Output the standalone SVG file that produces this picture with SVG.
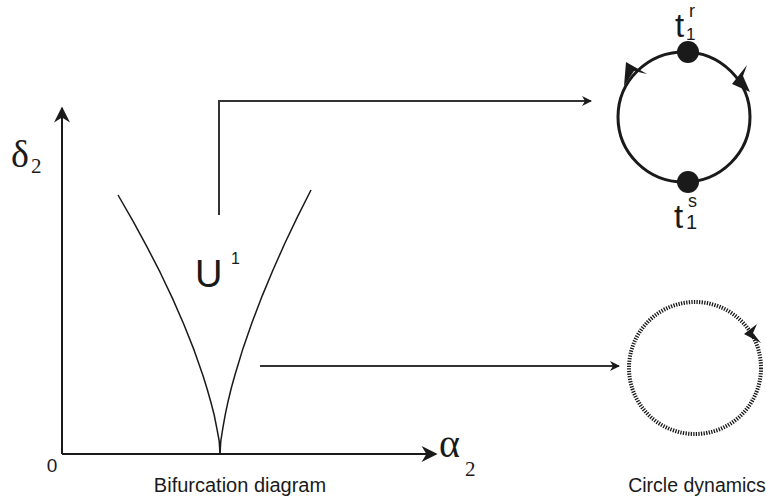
<svg xmlns="http://www.w3.org/2000/svg" width="766" height="497" viewBox="0 0 766 497">
<style>
.ax{stroke:#1a1a1a;stroke-width:2;fill:none}
.cv{stroke:#1a1a1a;stroke-width:1.5;fill:none;stroke-linejoin:round}
.cn{stroke:#333;stroke-width:2;fill:none}
.sans{font-family:"Liberation Sans",Arial,sans-serif;fill:#1a1a1a}
.serif{font-family:"Liberation Serif","Times New Roman",serif;fill:#1a1a1a}
.head{fill:#1a1a1a}
</style>
<defs>
<marker id="ah" viewBox="0 0 10 10" refX="9" refY="5" markerWidth="5" markerHeight="5" orient="auto" markerUnits="strokeWidth">
<path d="M0,0 L10,5 L0,10 L3,5 Z" fill="#1a1a1a"/>
</marker>
<marker id="ahL" viewBox="0 0 10 10" refX="9" refY="5" markerWidth="9" markerHeight="8" orient="auto" markerUnits="strokeWidth">
<path d="M0,0 L10,5 L0,10 L3,5 Z" fill="#1a1a1a"/>
</marker>
</defs>
<rect width="766" height="497" fill="#fff"/>
<g id="axes">
<line class="ax" x1="62" y1="454" x2="62" y2="108" marker-end="url(#ahL)"/>
<line class="ax" x1="62" y1="454" x2="436" y2="454" marker-end="url(#ahL)"/>
<text class="sans" x="52" y="472" font-size="19" text-anchor="middle">0</text>
<text class="serif" x="11" y="167" font-size="38">δ</text>
<text class="serif" x="31" y="173" font-size="21">2</text>
<text class="serif" x="439" y="457" font-size="40">α</text>
<text class="serif" x="465" y="476" font-size="21">2</text>
<text class="sans" x="240" y="492" font-size="20" text-anchor="middle">Bifurcation diagram</text>
</g>
<g id="cusp">
<path class="cv" d="M220,454 L219.2,441 L216.8,428.1 L214.2,415 L210.9,402.2 L207.2,389.2 L203.2,376.3 L194.2,350.4 L183.9,324.5 L172.6,298.6 L160.3,272.7 L147,246.8 L132.9,220.9 L118,195"/>
<path class="cv" d="M220,454 L220.8,441 L222.9,427.6 L225.3,414.4 L228.1,401.2 L231.3,388 L235,374.8 L243,348.4 L252.2,322 L262.3,295.6 L273.3,269.2 L285.1,242.8 L297.7,216.4 L311,190"/>
<text class="sans" x="195" y="287" font-size="38">U</text>
<text class="sans" x="231" y="264" font-size="16">1</text>
</g>
<g id="connectors">
<polyline class="cn" points="219,215 219,101 591,101" marker-end="url(#ah)"/>
<line class="cn" x1="260" y1="366" x2="619" y2="366" marker-end="url(#ah)"/>
</g>
<g id="circle1">
<ellipse cx="684" cy="117" rx="66" ry="65" fill="none" stroke="#1a1a1a" stroke-width="3"/>
<circle cx="688" cy="52" r="11" fill="#1a1a1a"/>
<circle cx="688" cy="182" r="11" fill="#1a1a1a"/>
<path class="head" d="M624,86 L626,62 L647,74 L634,71 Z"/>
<path class="head" d="M750,92 L732,84 L747,65 L743,76 Z"/>
<text class="sans" x="675" y="37" font-size="33">t</text>
<text class="sans" x="686" y="40" font-size="17">1</text>
<text class="sans" x="689" y="17" font-size="18">r</text>
<text class="sans" x="674" y="228" font-size="33">t</text>
<text class="sans" x="686" y="229" font-size="20">1</text>
<text class="sans" x="688" y="207" font-size="18">s</text>
</g>
<g id="circle2">
<circle cx="695" cy="368" r="66" fill="none" stroke="#1a1a1a" stroke-width="4" stroke-dasharray="1.3,1.3"/>
<path class="head" d="M761,343 L744,334 L757,324 L753,333 Z"/>
<text class="sans" x="697" y="492" font-size="19.5" text-anchor="middle">Circle dynamics</text>
</g>
</svg>
